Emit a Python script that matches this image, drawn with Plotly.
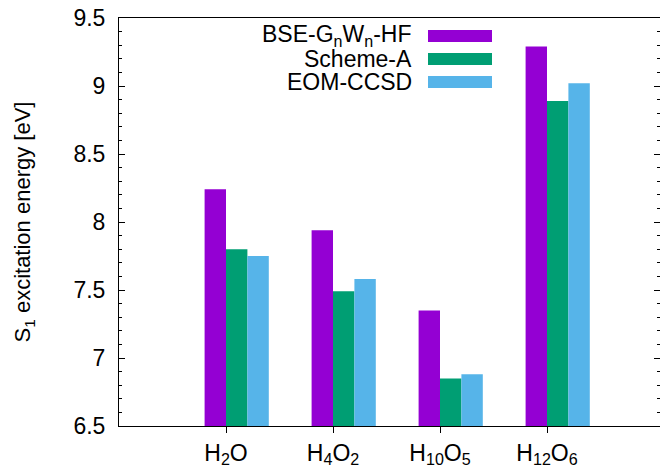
import plotly.graph_objects as go

categories = ["H<sub>2</sub>O", "H<sub>4</sub>O<sub>2</sub>", "H<sub>10</sub>O<sub>5</sub>", "H<sub>12</sub>O<sub>6</sub>"]
series_names = ["BSE-G<sub>n</sub>W<sub>n</sub>-HF", "Scheme-A", "EOM-CCSD"]
bse = [8.24, 7.94, 7.35, 9.29]
scheme_a = [7.80, 7.49, 6.85, 8.89]
eom = [7.75, 7.58, 6.88, 9.02]
colors = ["#9400D3", "#009E73", "#56B4E9"]
yticks = [6.5, 7, 7.5, 8, 8.5, 9, 9.5]
ytick_labels = ["6.5", "7", "7.5", "8", "8.5", "9", "9.5"]

FONT = "Liberation Sans, Arial, Helvetica, sans-serif"
FS = 23
xpos = list(range(len(categories)))
bw = 0.2
offsets = [-bw, 0.0, bw]

fig = go.Figure()
for name, vals, col, off in zip(series_names, [bse, scheme_a, eom], colors, offsets):
    fig.add_trace(go.Bar(
        x=xpos, y=vals, name=name, width=bw, offset=off,
        marker=dict(color=col, line=dict(width=0)),
        showlegend=False,
    ))

# legend (manual: text right-aligned, swatch on right)
leg_y = [36, 59, 82]
H, W = 470, 660
ml, mr, mt, mb = 119, 0, 18, 44
pw, ph = W - ml - mr, H - mt - mb
for name, col, yy in zip(series_names, colors, leg_y):
    yp = 1 - (yy - mt) / ph
    fig.add_annotation(xref="paper", yref="paper", x=(414 - ml) / pw, y=yp,
                       text=name, showarrow=False, xanchor="right", yanchor="middle",
                       font=dict(size=FS, color="black", family=FONT))
    fig.add_shape(type="rect", xref="paper", yref="paper",
                  x0=(428 - ml) / pw, x1=(492 - ml) / pw,
                  y0=yp - 6 / ph, y1=yp + 6 / ph,
                  fillcolor=col, line=dict(width=0))

fig.update_layout(
    width=W, height=H,
    margin=dict(l=ml, r=mr, t=mt, b=mb),
    paper_bgcolor="white", plot_bgcolor="white",
    barmode="overlay",
    font=dict(family=FONT, size=FS, color="black"),
    xaxis=dict(
        range=[-1, -1 + pw / 107.0],
        tickvals=xpos, ticktext=categories,
        ticks="outside", ticklen=6, tickcolor="black",
        showline=True, linecolor="black", linewidth=1, mirror=True,
        showgrid=False, zeroline=False,
        tickfont=dict(size=FS, family=FONT),
    ),
    yaxis=dict(
        range=[6.5, 9.5],
        tickvals=yticks, ticktext=ytick_labels,
        ticks="inside", ticklen=6, tickcolor="black",
        minor=dict(dtick=0.1, tick0=6.5, ticks="inside", ticklen=3, tickcolor="black"),
        showline=True, linecolor="black", linewidth=1, mirror="ticks",
        showgrid=False, zeroline=False,
        tickfont=dict(size=FS, family=FONT),
        ticklabelstandoff=8,
        title=dict(text="S<sub>1</sub> excitation energy [eV]", font=dict(size=FS - 1, family=FONT), standoff=36),
    ),
)

fig.write_html("out.html")
